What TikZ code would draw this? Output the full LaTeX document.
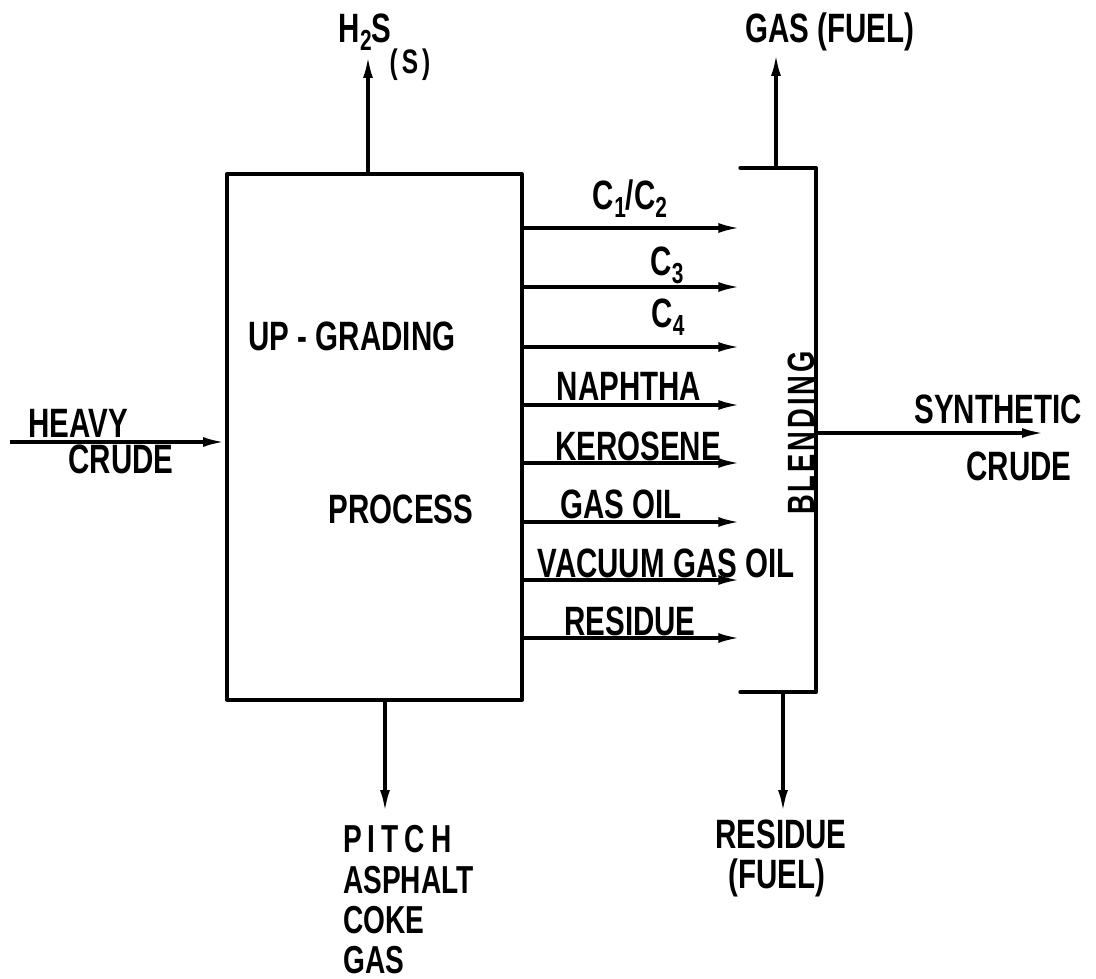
\documentclass[tikz,border=0pt]{standalone}
\usepackage{fontspec}
\setmainfont{Liberation Sans}[FakeStretch=0.74,BoldFeatures={FakeStretch=0.72}]
\usetikzlibrary{arrows.meta}
\newcommand{\lsb}[1]{\raisebox{-8pt}{\fontsize{29}{30}\selectfont\bfseries #1}}
\begin{document}
\begin{tikzpicture}[x=1pt,y=-1pt,
  frame/.style={line width=4pt,line cap=round,line join=round},
  flow/.style={line width=3.4pt,-{Latex[length=22pt,width=10pt]}},
  lbl/.style={inner sep=0,anchor=base,font=\fontsize{41}{46}\selectfont\bfseries},
  small/.style={inner sep=0,anchor=base,font=\fontsize{34}{38}\selectfont\bfseries},
  listlbl/.style={inner sep=0,anchor=base west,font=\fontsize{39}{44}\selectfont\bfseries}]
\useasboundingbox (0,0) rectangle (1096,979);

% main up-grading box
\node[draw,frame,inner sep=0,minimum width=295pt,minimum height=526pt] (up) at (374.5,437) {};
% blending box (open on the left)
\node[inner sep=0,minimum width=75pt,minimum height=524pt] (bl) at (778,430) {};
\draw[frame] (bl.north west) -- (bl.north east) -- (bl.south east) -- (bl.south west);

% free ends
\coordinate (h2stip) at (368,56);
\coordinate (gastip) at (776,54);
\coordinate (pitchtip) at (385,812);
\coordinate (restip) at (783,812);
\coordinate (heavy) at (10,442);
\coordinate (syntip) at (1044,433);

% inner texts
\node[lbl] (upg) at (352,350) {UP - GRADING};
\node[lbl] (proc) at (401,523) {PROCESS};
\node[inner sep=0,rotate=90,font=\fontsize{38}{46}\selectfont\bfseries] (blend) at (801,433) {B\kern3pt L\kern3pt E\kern3pt N\kern3pt D\kern3pt I\kern3pt N\kern3pt G};

% product streams
\foreach \yy/\nm in {228/a,287/b,347/c,405/d,463/e,522/f,580/g,638/h}{
  \coordinate (s\nm) at (0,\yy);
  \draw[flow] (up.east |- s\nm) -- (bl.west |- s\nm);
}
\node[lbl] (lc12) at (630,210) {C\lsb{1}/C\lsb{2}};
\node[lbl] (lc3) at (667,276) {C\lsb{3}};
\node[lbl] (lc4) at (668,327) {C\lsb{4}};
\node[lbl] (lnap) at (629,400) {NAPHTHA};
\node[lbl] (lker) at (638,460) {KEROSENE};
\node[lbl] (lgo) at (621,518) {GAS OIL};
\node[lbl] (lvgo) at (666,577) {VACUUM GAS OIL};
\node[lbl] (lres) at (630,635) {RESIDUE};

% feed
\draw[flow] (heavy) -- (up.west |- heavy);
\node[lbl] (lheavy) at (78,437) {HEAVY};
\node[lbl] (lcrude) at (121,473) {CRUDE};

% H2S
\draw[flow] (up.north -| h2stip) -- (h2stip);
\node[lbl] (lh2s) at (365,43) {H\lsb{2}S};
\node[small] (ls) at (410,74) {(\kern4pt S\kern4pt)};

% gas fuel
\draw[flow] (bl.north -| gastip) -- (gastip);
\node[lbl] (lgas) at (830,43) {GAS (FUEL)};

% synthetic crude
\draw[flow] (bl.east |- syntip) -- (syntip);
\node[lbl] (lsyn) at (998,423) {SYNTHETIC};
\node[lbl] (lsyncr) at (1019,480) {CRUDE};

% pitch etc.
\draw[flow] (up.south -| pitchtip) -- (pitchtip);
\node[listlbl] (lpitch) at (343,852) {P\kern6pt I\kern6pt T\kern6pt C\kern6pt H};
\node[listlbl] (lasph) at (343,893) {ASPHALT};
\node[listlbl] (lcoke) at (343,933) {COKE};
\node[listlbl] (lgas2) at (343,973) {GAS};

% residue fuel
\draw[flow] (bl.south -| restip) -- (restip);
\node[lbl] (lresf) at (781,848) {RESIDUE};
\node[lbl] (lfuel) at (777,888) {(FUEL)};
\end{tikzpicture}
\end{document}
